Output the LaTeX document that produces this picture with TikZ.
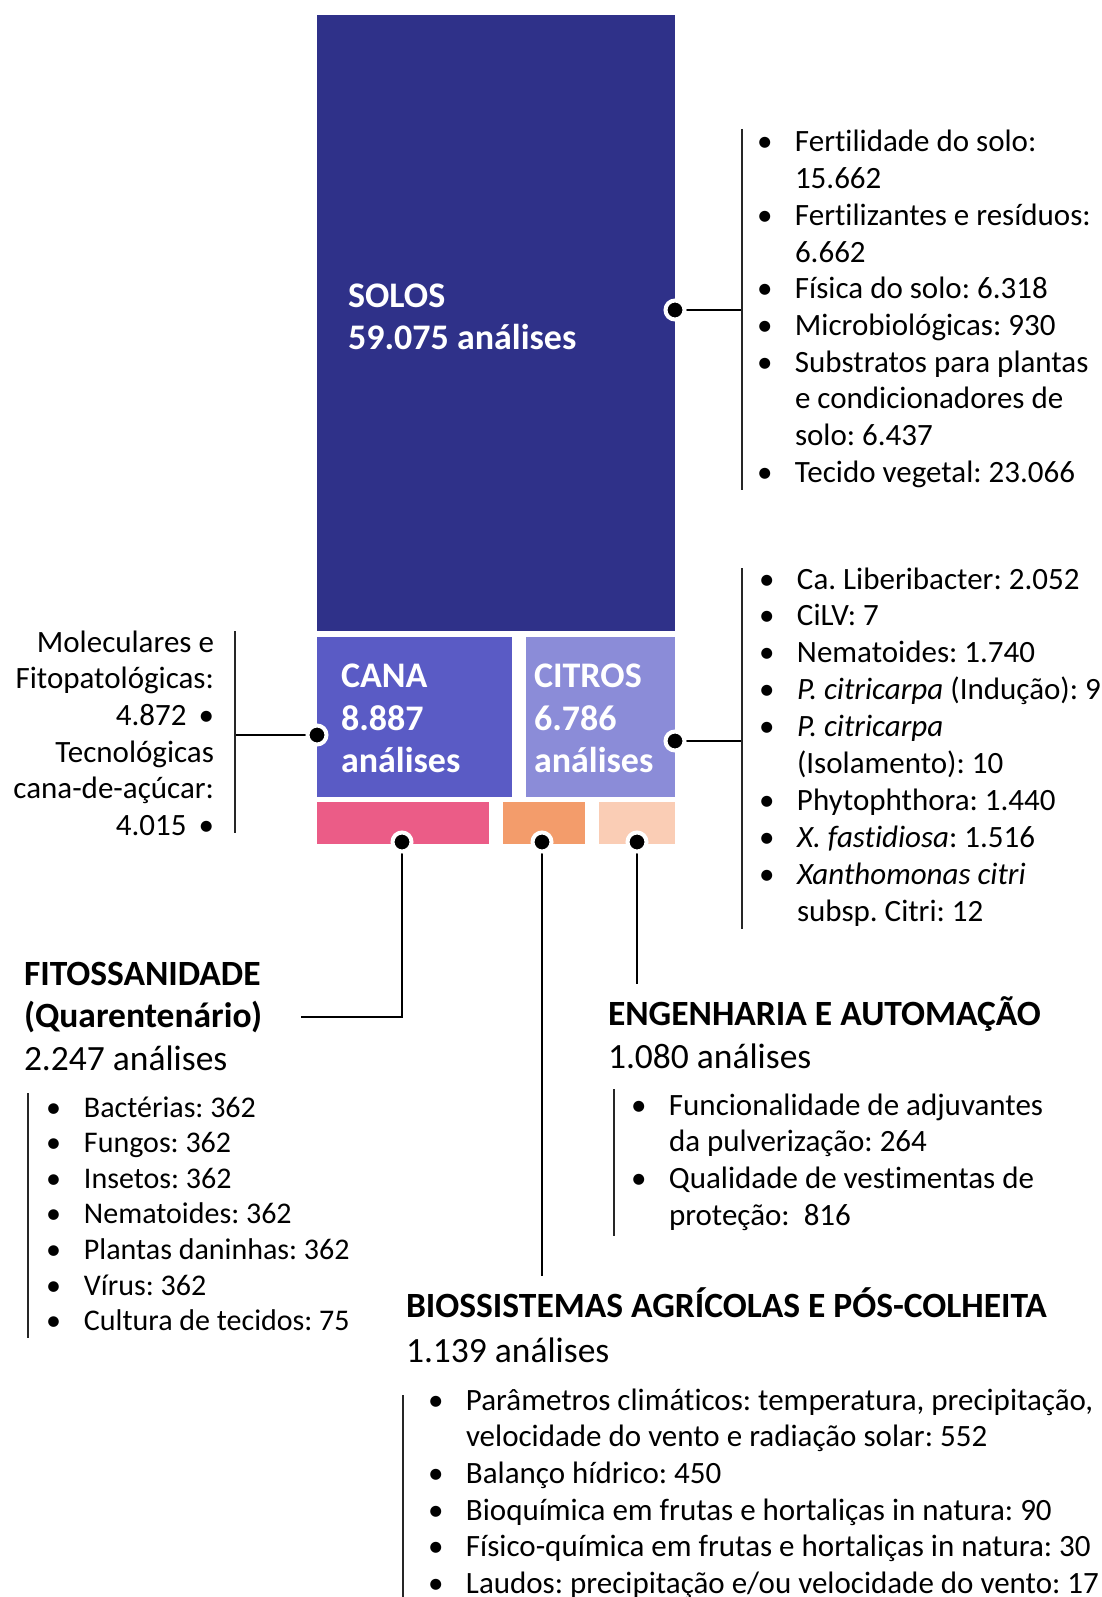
\documentclass[tikz,border=0pt]{standalone}
\usepackage{fontspec}
\setmainfont{Carlito}[Ligatures=NoCommon]
\usepackage{tikz}
\frenchspacing

\definecolor{solos}{RGB}{47,49,137}
\definecolor{cana}{RGB}{90,91,197}
\definecolor{citros}{RGB}{139,140,216}
\definecolor{fitos}{RGB}{235,92,135}
\definecolor{biopos}{RGB}{243,156,107}
\definecolor{engaut}{RGB}{250,205,181}

\newcommand{\blt}{\llap{\makebox[38pt][l]{•}}}

\begin{document}
\begin{tikzpicture}[x=1pt, y=-1pt,
  every node/.style = {inner sep=0pt, outer sep=0pt},
  blk/.style = {anchor=north west},
  lbl/.style = {anchor=base west, text=white, font=\fontsize{36}{42}\selectfont\bfseries},
  ttl/.style = {anchor=base west, font=\fontsize{35.5}{42}\selectfont\bfseries},
  sub/.style = {anchor=base west, font=\fontsize{35.5}{42}\selectfont},
  itm/.style = {anchor=base west, font=\fontsize{31}{36}\selectfont},
  dotmark/.style = {circle, fill=black, draw=white, line width=4pt, minimum size=19pt},
  link/.style = {line width=1.2pt},
  brk/.style = {line width=1.3pt, black!85}]
  \useasboundingbox (0,0) rectangle (1102,1597);

  % blocks
  \node[blk, fill=solos, minimum width=358pt, minimum height=616pt] (solos) at (317,15) {};
  \node[blk, fill=cana, minimum width=195pt, minimum height=160pt] (cana) at (317,637) {};
  \node[blk, fill=citros, minimum width=149pt, minimum height=160pt] (citros) at (526,637) {};
  \node[blk, fill=fitos, minimum width=172pt, minimum height=42pt] (fitos) at (317,802) {};
  \node[blk, fill=biopos, minimum width=82pt, minimum height=42pt] (biopos) at (503,802) {};
  \node[blk, fill=engaut, minimum width=76pt, minimum height=42pt] (engaut) at (599,802) {};

  \node[lbl] (lsolosa) at (348,307) {SOLOS};
  \node[lbl] (lsolosb) at (348,349) {59.075 análises};
  \node[lbl] (lcanaa) at (341,687) {CANA};
  \node[lbl] (lcanab) at (341,730) {8.887};
  \node[lbl] (lcanac) at (341,772) {análises};
  \node[lbl] (lcitrosa) at (534,687) {CITROS};
  \node[lbl] (lcitrosb) at (534,730) {6.786};
  \node[lbl] (lcitrosc) at (534,772) {análises};

  % connector ends
  \coordinate (psolos) at (675,310);
  \coordinate (pcana) at (317,735);
  \coordinate (pcitros) at (675,741);
  \coordinate (pfitos) at (402,842);
  \coordinate (pbiopos) at (542,842);
  \coordinate (pengaut) at (637,842);
  \coordinate (bsolos) at (742,310);
  \coordinate (bcana) at (235,735);
  \coordinate (bcitros) at (742,741);
  \coordinate (bfitos) at (301,1017);
  \coordinate (bbiopos) at (542,1276);
  \coordinate (bengaut) at (637,984);

  \draw[link] (psolos) -- (bsolos);
  \draw[link] (pcana) -- (bcana);
  \draw[link] (pcitros) -- (bcitros);
  \draw[link] (pfitos) |- (bfitos);
  \draw[link] (pbiopos) -- (bbiopos);
  \draw[link] (pengaut) -- (bengaut);

  \foreach \p in {psolos, pcana, pcitros, pfitos, pbiopos, pengaut}
    \node[dotmark] (d\p) at (\p) {};

  % brackets
  \draw[brk] (742,129) -- (742,490);
  \draw[brk] (742,568) -- (742,929);
  \draw[brk] (235,631) -- (235,833);
  \draw[brk] (28,1093) -- (28,1338);
  \draw[brk] (614,1089) -- (614,1236);
  \draw[brk] (403,1395) -- (403,1597);

  % lists
  \foreach \t [count=\i from 0] in {{\blt Fertilidade do solo:}, {15.662},
      {\blt Fertilizantes e resíduos:}, {6.662}, {\blt Física do solo: 6.318},
      {\blt Microbiológicas: 930}, {\blt Substratos para plantas},
      {e condicionadores de}, {solo: 6.437}, {\blt Tecido vegetal: 23.066}}
    \node[itm] (isolos\i) at (795,152+36.7*\i) {\t};

  \foreach \t [count=\i from 0] in {{\blt Ca. Liberibacter: 2.052}, {\blt CiLV: 7},
      {\blt Nematoides: 1.740}, {\blt \textit{P. citricarpa} (Indução): 9},
      {\blt \textit{P. citricarpa}}, {(Isolamento): 10}, {\blt Phytophthora: 1.440},
      {\blt \textit{X. fastidiosa}: 1.516}, {\blt \textit{Xanthomonas citri}},
      {subsp. Citri: 12}}
    \node[itm] (icitros\i) at (797,589+36.9*\i) {\t};

  \foreach \t [count=\i from 0] in {{Moleculares e}, {Fitopatológicas:},
      {4.872\hspace{12pt}•}, {Tecnológicas}, {cana-de-açúcar:}, {4.015\hspace{12pt}•}}
    \node[itm, anchor=base east] (icana\i) at (214,652+36.7*\i) {\t};

  \node[ttl] (tfitosa) at (24,985) {FITOSSANIDADE};
  \node[ttl] (tfitosb) at (24,1027) {(Quarentenário)};
  \node[sub] (tfitosc) at (24,1070) {2.247 análises};
  \foreach \t [count=\i from 0] in {Bactérias: 362, Fungos: 362, Insetos: 362,
      Nematoides: 362, Plantas daninhas: 362, Vírus: 362, Cultura de tecidos: 75}
    \node[itm, font=\fontsize{30}{34}\selectfont] (ifitos\i) at (84,1117+35.6*\i) {\blt\t};

  \node[ttl] (tengauta) at (608,1025) {ENGENHARIA E AUTOMAÇÃO};
  \node[sub] (tengautb) at (608,1068) {1.080 análises};
  \foreach \t [count=\i from 0] in {{\blt Funcionalidade de adjuvantes},
      {da pulverização: 264}, {\blt Qualidade de vestimentas de}, {proteção: \ 816}}
    \node[itm] (iengaut\i) at (669,1115+36.7*\i) {\t};

  \node[ttl] (tbiopos) at (406,1317) {BIOSSISTEMAS AGRÍCOLAS E PÓS-COLHEITA};
  \node[sub] (tbioposb) at (406,1362) {1.139 análises};
  \foreach \t [count=\i from 0] in {{\blt Parâmetros climáticos: temperatura, precipitação,},
      {velocidade do vento e radiação solar: 552}, {\blt Balanço hídrico: 450},
      {\blt Bioquímica em frutas e hortaliças in natura: 90},
      {\blt Físico-química em frutas e hortaliças in natura: 30},
      {\blt Laudos: precipitação e/ou velocidade do vento: 17}}
    \node[itm] (ibiopos\i) at (466,1410+36.7*\i) {\t};
\end{tikzpicture}
\end{document}
